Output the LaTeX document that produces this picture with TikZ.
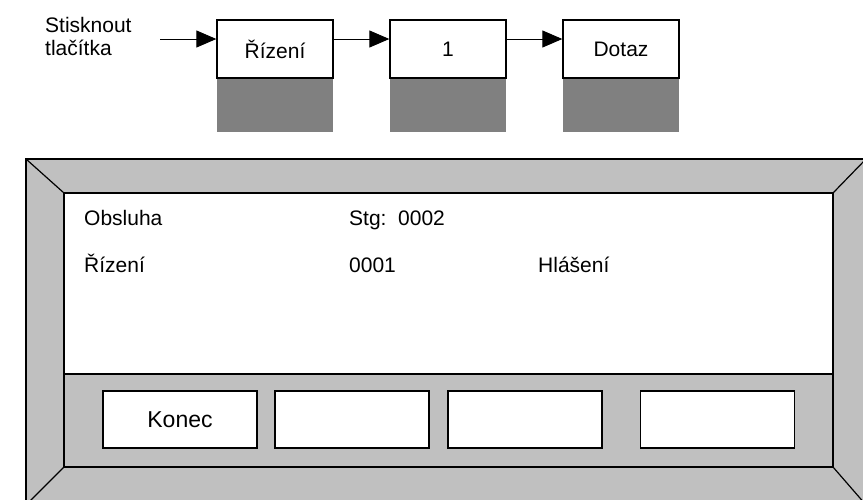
\documentclass[tikz,border=0pt]{standalone}
\usepackage{fontspec}
\setmainfont{Liberation Sans}
\usetikzlibrary{arrows.meta}
\definecolor{framegray}{HTML}{C0C0C0}
\definecolor{shadowgray}{HTML}{808080}
\begin{document}
\begin{tikzpicture}[x=1pt,y=-1pt,
  topbox/.style={draw,line width=1.3pt,fill=white,minimum width=116pt,minimum height=58pt,inner sep=0pt,font=\fontsize{21}{23}\selectfont},
  btn/.style={draw,line width=1.3pt,fill=white,minimum width=154pt,minimum height=57pt,inner sep=0pt,font=\fontsize{23}{26}\selectfont},
  flow/.style={line width=1pt,-{Triangle[length=20pt,width=17pt]}},
  lbl/.style={anchor=base west,inner sep=0pt,font=\fontsize{21}{23}\selectfont}]
\useasboundingbox (0,0) rectangle (863,499);
\begin{scope}
\clip (0,0) rectangle (863,499);
% outer frame
\fill[framegray] (26,159) rectangle (866,505);
\draw[line width=1.2pt] (866,159) -- (26,159) -- (26,505);
% diagonals
\draw[line width=1.2pt] (26,159) -- (64,193);
\draw[line width=1.2pt] (866,159) -- (833,193);
\draw[line width=1.2pt] (26,505) -- (64,467);
\draw[line width=1.2pt] (866,505) -- (833,467);
% screen
\fill[white] (64,193) rectangle (833,374);
\draw[line width=1.2pt] (64,374) -- (833,374);
\draw[line width=1.5pt] (64,193) rectangle (833,467);
\end{scope}
% screen texts
\node[lbl] (t1) at (84,225) {Obsluha};
\node[lbl] (t2) at (349,225) {Stg:\ \ 0002};
\node[lbl] (t3) at (84,272) {Řízení};
\node[lbl] (t4) at (349,272) {0001};
\node[lbl] (t5) at (538,272) {Hlášení};
% buttons
\node[btn] (b1) at (180,419.5) {Konec};
\node[btn] (b2) at (352,419.5) {};
\node[btn] (b3) at (525,419.5) {};
\node[btn] (b4) at (717.5,419.5) {};
% top sequence
\fill[shadowgray] (217,78) rectangle (333,132);
\fill[shadowgray] (390,78) rectangle (506,132);
\fill[shadowgray] (563,78) rectangle (679,132);
\node[topbox] (r1) at (275,49) {Řízení};
\node[topbox] (r2) at (448,49) {1};
\node[topbox] (r3) at (621,49) {Dotaz};
\node[lbl] (st1) at (45,32) {Stisknout};
\node[lbl] (st2) at (45,55) {tlačítka};
\coordinate (s0) at (160,39);
\draw[flow] (s0) -- (s0 -| r1.west);
\draw[flow] ([yshift=10pt]r1.east) -- ([yshift=10pt]r2.west);
\draw[flow] ([yshift=10pt]r2.east) -- ([yshift=10pt]r3.west);
\end{tikzpicture}
\end{document}
